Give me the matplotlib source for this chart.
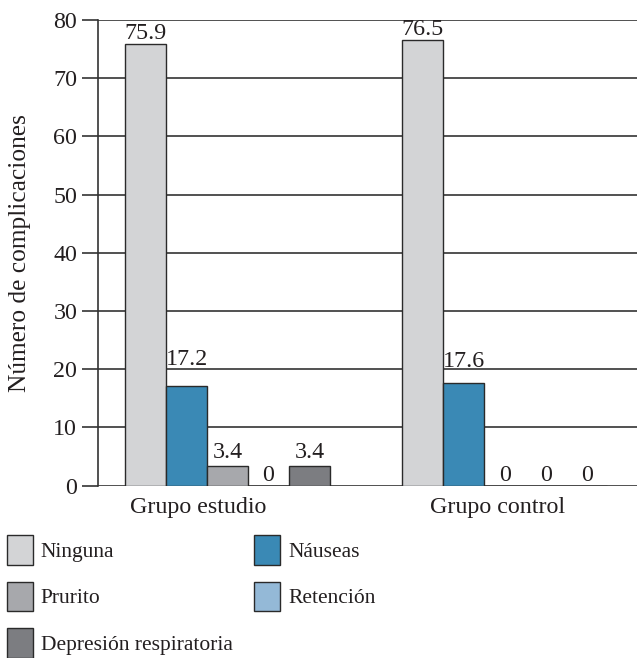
import matplotlib
matplotlib.use("Agg")
import matplotlib.pyplot as plt
from matplotlib.patches import Patch

groups = ["Grupo estudio", "Grupo control"]
series = ["Ninguna", "Náuseas", "Prurito", "Retención", "Depresión respiratoria"]
values = {
    "Ninguna": [75.9, 76.5],
    "Náuseas": [17.2, 17.6],
    "Prurito": [3.4, 0],
    "Retención": [0, 0],
    "Depresión respiratoria": [3.4, 0],
}
labels = {
    "Ninguna": ["75.9", "76.5"],
    "Náuseas": ["17.2", "17.6"],
    "Prurito": ["3.4", "0"],
    "Retención": ["0", "0"],
    "Depresión respiratoria": ["3.4", "0"],
}
colors = {
    "Ninguna": "#d3d4d6",
    "Náuseas": "#3a89b5",
    "Prurito": "#a7a8ac",
    "Retención": "#94b9d7",
    "Depresión respiratoria": "#7c7d81",
}
yticks = [0, 10, 20, 30, 40, 50, 60, 70, 80]

plt.rcParams["font.family"] = ["Liberation Serif", "DejaVu Serif"]
FS = 17.3
LFS = 15.5
txt = "#231f20"
edge = "#2a2a2a"

fig = plt.figure(figsize=(6.37, 6.58), dpi=100)
ax = fig.add_axes([98 / 637, (658 - 485.7) / 658, 1 - 98 / 637, (485.7 - 20) / 658])

group_centers = [0.0, 6.76]
offsets = [-2, -1, 0, 1, 2]
# vertical gap (points) between bar top and label baseline, per group
label_gap = {
    "Ninguna": [3.6, 3.6],
    "Náuseas": [14.6, 11.5],
    "Prurito": [5.8, 3.6],
    "Retención": [3.6, 3.6],
    "Depresión respiratoria": [5.8, 3.6],
}

for s, off in zip(series, offsets):
    xs = [g + off for g in group_centers]
    ax.bar(xs, values[s], width=1.0, color=colors[s], edgecolor=edge, linewidth=1.0, zorder=3)
    for x, v, t, gap in zip(xs, values[s], labels[s], label_gap[s]):
        ax.annotate(t, (x, v), xytext=(0, gap), textcoords="offset points",
                    ha="center", va="baseline", fontsize=FS, color=txt, zorder=4)

ax.set_xlim(-3.16, 9.99)
ax.set_ylim(0, 80)
ax.set_yticks(yticks)
ax.yaxis.grid(True, color="#333333", linewidth=1.2, zorder=0)
ax.set_axisbelow(True)
for sp in ["top", "right", "bottom"]:
    ax.spines[sp].set_visible(False)
ax.spines["left"].set_color("#333333")
ax.spines["left"].set_linewidth(1.2)
ax.tick_params(axis="y", direction="out", length=11.5, width=1.2, color="#333333",
               pad=3.5, labelsize=FS, labelcolor=txt)
ax.set_xticks([group_centers[0] - 0.72, group_centers[1] - 0.17])
ax.set_xticklabels(groups)
ax.tick_params(axis="x", length=0, pad=8, labelsize=FS, labelcolor=txt)
ax.set_ylabel("Número de complicaciones", fontsize=18.3, color=txt)
ax.yaxis.set_label_coords(-0.125, 0.5)

order = ["Ninguna", "Prurito", "Depresión respiratoria", "Náuseas", "Retención"]
handles = [Patch(facecolor=colors[s], edgecolor=edge, linewidth=1.0, label=s) for s in order]
fig.legend(handles=handles, loc="upper left", bbox_to_anchor=(7 / 637, (658 - 535) / 658),
           ncol=2, frameon=False, fontsize=LFS, borderpad=0, borderaxespad=0,
           handlelength=1.19, handleheight=1.75, handletextpad=0.38,
           labelspacing=0.78, columnspacing=1.0, labelcolor=txt)

fig.savefig("out.png", dpi=100)
